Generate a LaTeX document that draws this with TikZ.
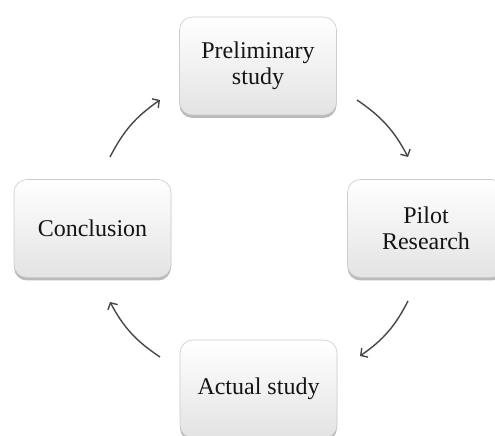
\documentclass[tikz,border=0pt]{standalone}
\usepackage{fontspec}
\setmainfont{Liberation Serif}
\usetikzlibrary{shadows,arrows.meta}
\begin{document}
\begin{tikzpicture}[x=1pt,y=1pt,
  stepbox/.style={rounded corners=13pt, minimum width=157pt, minimum height=98pt,
    draw=gray!40, line width=0.6pt, top color=white, middle color=white, bottom color=gray!22,
    drop shadow={shadow xshift=0pt, shadow yshift=-3pt, opacity=0.6, fill=gray!90},
    align=center, font=\fontsize{24}{26}\selectfont, text=black!92, inner sep=0pt},
  cyc/.style={line width=1.4pt, draw=black!72, -{Straight Barb[length=5pt,width=11pt]}}]
\useasboundingbox (0,0) rectangle (495,436);
\clip (0,0) rectangle (495,436);
\node[stepbox] (pre) at (258,370) {Preliminary\\study};
\node[stepbox] (pil) at (426,207.5) {Pilot\\Research};
\node[stepbox] (con) at (92.5,207.5) {Conclusion};
\node[stepbox] (act) at (258.5,47) {Actual study};
\coordinate (a1s) at (357,336); \coordinate (a1e) at (408,279);
\coordinate (a2s) at (408,135); \coordinate (a2e) at (360,80);
\coordinate (a3s) at (160,79);  \coordinate (a3e) at (110,134);
\coordinate (a4s) at (110,279); \coordinate (a4e) at (160,336);
\draw[cyc] (a1s) to[bend left=14] (a1e);
\draw[cyc] (a2s) to[bend left=14] (a2e);
\draw[cyc] (a3s) to[bend left=14] (a3e);
\draw[cyc] (a4s) to[bend left=14] (a4e);
\end{tikzpicture}
\end{document}
